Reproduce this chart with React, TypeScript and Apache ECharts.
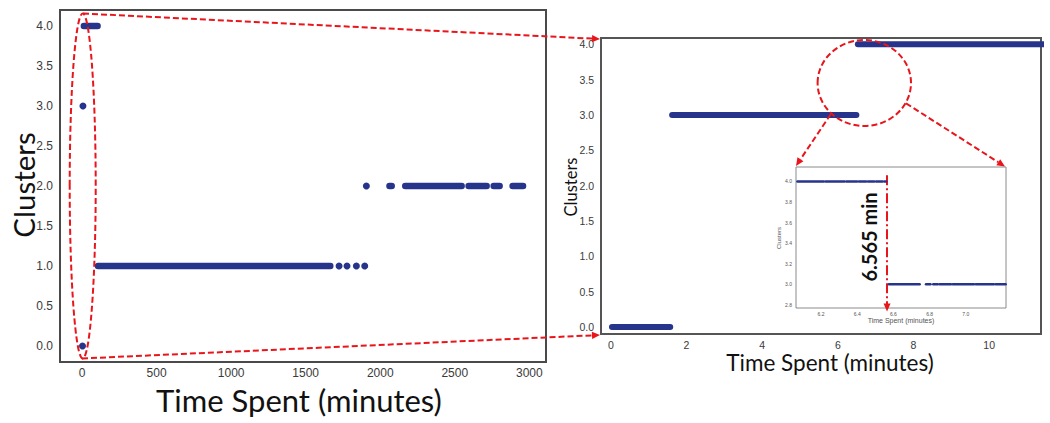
import React, { useEffect, useRef } from "react";
import * as echarts from "echarts";

// ---------- data ----------
// Left panel: full range (minutes). Runs are [start, end] of dense dot bands.
const leftCluster4Runs = [[12, 104]];
const leftCluster1Runs = [[107, 1665]];
const leftCluster2Runs = [[2062, 2077], [2168, 2546], [2593, 2714], [2761, 2801], [2888, 2958]];
const leftSinglePoints = [[3, 0], [6, 3], [1724, 1], [1777, 1], [1840, 1], [1896, 1], [1907, 2]];
const leftXTicks = [0, 500, 1000, 1500, 2000, 2500, 3000];
const leftYTicks = [0, 0.5, 1, 1.5, 2, 2.5, 3, 3.5, 4];

// Right panel: zoom on the first minutes
const rightCluster0Runs = [[0.03, 1.57]];
const rightCluster3Runs = [[1.62, 6.49]];
const rightCluster4Runs = [[6.53, 11.6]];
const rightXTicks = [0, 2, 4, 6, 8, 10];
const rightYTicks = [0, 0.5, 1, 1.5, 2, 2.5, 3, 3.5, 4];

// Inset: transition around 6.565 min
const insetCluster4Runs = [[6.07, 6.215], [6.225, 6.33], [6.34, 6.4], [6.41, 6.45], [6.46, 6.495], [6.505, 6.54], [6.55, 6.56]];
const insetCluster3Runs = [[6.575, 6.745], [6.78, 6.805], [6.82, 6.845], [6.855, 6.918], [6.928, 7.045], [7.055, 7.155], [7.165, 7.22]];
const insetXTicks = [6.2, 6.4, 6.6, 6.8, 7.0];
const insetYTicks = [2.8, 3.0, 3.2, 3.4, 3.6, 3.8, 4.0];
const transitionMinute = 6.565;

const DOT = "#27348b";
const RED = "#e8151b";
const TICK_FONT = "Liberation Sans";
const TITLE_FONT = "Lato";

function runSeries(runs: number[][], cluster: number, axis: number, width: number) {
  return runs.map(([a, b]) => ({
    type: "line",
    xAxisIndex: axis,
    yAxisIndex: axis,
    data: [[a, cluster], [b, cluster]],
    symbol: "none",
    showSymbol: false,
    silent: true,
    z: 3,
    lineStyle: { color: DOT, width, cap: "round", opacity: 1 },
  }));
}

function arrow(x1: number, y1: number, x2: number, y2: number) {
  const dx = x2 - x1, dy = y2 - y1;
  const len = Math.sqrt(dx * dx + dy * dy);
  const ux = dx / len, uy = dy / len;
  const hl = 8, hw = 3.6;
  const bx = x2 - ux * hl, by = y2 - uy * hl;
  return [
    {
      type: "line",
      z: 100,
      silent: true,
      shape: { x1, y1, x2: bx, y2: by },
      style: { stroke: RED, lineWidth: 2, lineDash: [6, 3] },
    },
    {
      type: "polygon",
      z: 100,
      silent: true,
      shape: { points: [[x2, y2], [bx - uy * hw, by + ux * hw], [bx + uy * hw, by - ux * hw]] },
      style: { fill: RED },
    },
  ];
}

function title(text: string, x: number, y: number, size: number, rotate: boolean, extra: any = {}) {
  return {
    type: "text",
    x,
    y,
    z: 50,
    silent: true,
    rotation: rotate ? Math.PI / 2 : 0,
    style: {
      text,
      fontSize: size,
      fontFamily: TITLE_FONT,
      fill: "#111",
      align: "center",
      verticalAlign: "middle",
      textAlign: "center",
      textVerticalAlign: "middle",
      ...extra,
    },
  };
}

const hidden = { show: false };

function valueAxis(grid: number, min: number, max: number, ticks: number[], fmt: (v: number) => string, size: number, color: string, margin: number) {
  return {
    type: "value",
    gridIndex: grid,
    min,
    max,
    axisLine: hidden,
    axisTick: hidden,
    splitLine: hidden,
    axisLabel: {
      customValues: ticks,
      formatter: fmt,
      fontSize: size,
      fontFamily: TICK_FONT,
      color,
      margin,
    },
  };
}

export default function App() {
  const ref = useRef<HTMLDivElement>(null);
  useEffect(() => {
    document.body.style.margin = "0";
    if (!ref.current) return;
    const chart = echarts.init(ref.current, null, { renderer: "svg" });
    const f1 = (v: number) => v.toFixed(1);
    const f0 = (v: number) => String(Math.round(v));
    const option: any = {
      animation: false,
      backgroundColor: "#fff",
      grid: [
        { left: 60, top: 10, width: 486, height: 352, show: true, borderColor: "#4a4a4a", borderWidth: 2, backgroundColor: "transparent" },
        { left: 601, top: 38, width: 440, height: 296, show: true, borderColor: "#555", borderWidth: 2, backgroundColor: "transparent" },
        { left: 796, top: 167, width: 210, height: 141, show: true, borderColor: "#8a8a8a", borderWidth: 1, backgroundColor: "#fff", z: 5 },
      ],
      xAxis: [
        valueAxis(0, -148, 3112, leftXTicks, f0, 12, "#3a3a3a", 5),
        valueAxis(1, -0.26, 11.37, rightXTicks, f0, 10.5, "#3a3a3a", 5),
        { ...valueAxis(2, 6.062, 7.222, insetXTicks, f1, 5, "#555", 3), z: 6 },
      ],
      yAxis: [
        valueAxis(0, -0.2, 4.2, leftYTicks, f1, 12, "#3a3a3a", 7),
        valueAxis(1, -0.1, 4.09, rightYTicks, f1, 10.5, "#3a3a3a", 7),
        { ...valueAxis(2, 2.77, 4.14, insetYTicks, f1, 5, "#555", 4), z: 6 },
      ],
      series: [
        ...runSeries(leftCluster4Runs, 4, 0, 6.5),
        ...runSeries(leftCluster1Runs, 1, 0, 6.5),
        ...runSeries(leftCluster2Runs, 2, 0, 6.5),
        {
          type: "scatter",
          xAxisIndex: 0,
          yAxisIndex: 0,
          data: leftSinglePoints,
          symbolSize: 7,
          silent: true,
          z: 3,
          itemStyle: { color: DOT, opacity: 1 },
        },
        ...runSeries(rightCluster0Runs, 0, 1, 6),
        ...runSeries(rightCluster3Runs, 3, 1, 6),
        ...runSeries(rightCluster4Runs, 4, 1, 6),
        ...runSeries(insetCluster4Runs, 4, 2, 2.5).map((s) => ({ ...s, z: 7 })),
        ...runSeries(insetCluster3Runs, 3, 2, 2.5).map((s, i) => ({
          ...s,
          z: 7,
          ...(i === 0
            ? {
                markLine: {
                  silent: true,
                  symbol: ["none", "triangle"],
                  symbolSize: [7, 8],
                  label: { show: false },
                  lineStyle: { color: RED, width: 2, type: [10, 3, 2, 3] },
                  emphasis: { disabled: true },
                  data: [[{ coord: [transitionMinute, 4.06] }, { coord: [transitionMinute, 2.775] }]],
                },
              }
            : {}),
        })),
      ],
      graphic: [
        title("Time Spent (minutes)", 299, 400, 31, false),
        title("Clusters", 23, 185, 29.5, true),
        title("Time Spent (minutes)", 830, 362.5, 22.5, false),
        title("Clusters", 571, 187, 16.5, true),
        title("Time Spent (minutes)", 901, 320.5, 7, false, { fontFamily: TICK_FONT, fill: "#555" }),
        title("Clusters", 779, 238, 6, true, { fontFamily: TICK_FONT, fill: "#555" }),
        title("6.565 min", 869, 237, 20, true, { fontWeight: "bold" }),
        {
          type: "ellipse",
          z: 100,
          silent: true,
          shape: { cx: 82.7, cy: 186, rx: 13, ry: 172.5 },
          style: { fill: "rgba(0,0,0,0)", stroke: RED, lineWidth: 2, lineDash: [6, 3] },
        },
        {
          type: "ellipse",
          z: 100,
          silent: true,
          shape: { cx: 864.3, cy: 83, rx: 46.7, ry: 43 },
          style: { fill: "rgba(0,0,0,0)", stroke: RED, lineWidth: 2, lineDash: [6, 3] },
        },
        ...arrow(83, 13.5, 600, 39),
        ...arrow(82, 358.5, 600, 335),
        ...arrow(830.7, 114.3, 796, 166),
        ...arrow(906, 103.3, 1005, 166.5),
      ],
    };
    chart.setOption(option);
    return () => chart.dispose();
  }, []);
  return <div ref={ref} style={{ width: 1050, height: 423 }} />;
}
